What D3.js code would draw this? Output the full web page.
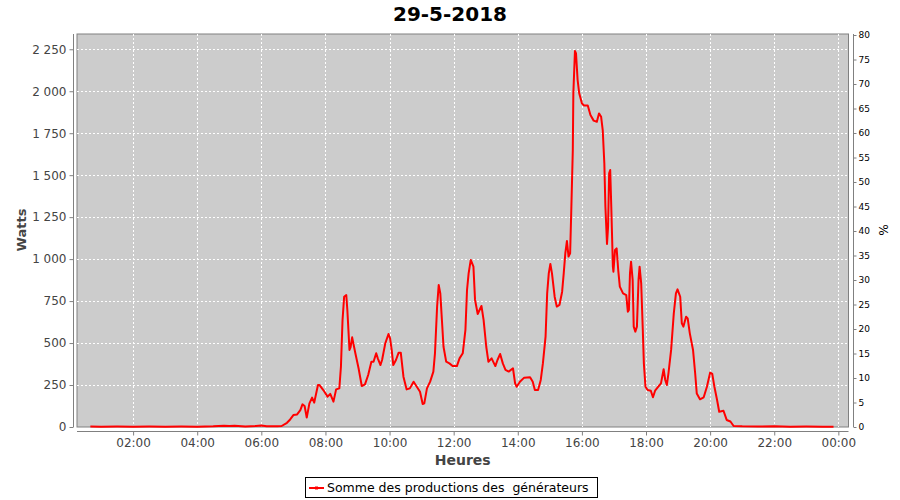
<!DOCTYPE html>
<html><head><meta charset="utf-8">
<script src="https://cdn.jsdelivr.net/npm/d3@7"></script>
<style>body{margin:0;background:#fff;}svg{display:block;font-family:"DejaVu Sans",sans-serif;}</style>
</head><body>
<svg id="c" width="900" height="500"></svg>
<script>
const title = "29-5-2018";
const seriesName = "Somme des productions des  générateurs";
const times = ["00:40","01:00","01:30","02:00","02:30","03:00","03:30","04:00","04:30","04:50","05:00","05:10","05:30","05:50","06:00","06:10","06:30","06:38",
"06:48","06:54","07:00","07:07","07:13","07:17","07:21","07:25","07:30","07:35","07:39","07:46","07:49","07:56","08:04","08:09","08:15","08:20","08:26","08:29","08:32","08:35","08:39","08:41","08:45","08:47","08:50","08:56",
"09:02","09:08","09:14","09:20","09:26","09:30","09:35","09:38","09:43","09:46","09:52","09:58","10:01","10:04","10:07","10:12","10:17","10:21","10:26","10:32","10:38","10:45","10:51","10:57",
"11:02","11:05","11:10","11:16","11:22","11:25","11:29","11:32","11:35","11:38","11:41","11:46","11:52","11:58","12:06","12:11","12:17","12:22","12:25","12:28","12:32","12:37","12:40","12:45","12:52","12:56",
"13:01","13:05","13:11","13:18","13:22","13:27","13:32","13:37","13:43","13:51","13:55","13:58","14:04","14:12","14:23","14:28","14:32","14:38","14:43","14:47","14:52","14:55","14:58",
"15:01","15:04","15:09","15:13","15:18","15:23","15:26","15:29","15:32","15:35","15:38","15:40","15:43","15:44","15:47","15:49","15:52","15:55","16:00","16:04","16:11","16:16","16:22","16:28","16:32","16:36","16:39","16:42","16:44","16:47","16:49","16:51","16:53","16:55","16:58","16:59",
"17:02","17:05","17:08","17:11","17:17","17:23","17:26","17:28","17:30","17:32","17:35","17:37","17:40","17:43","17:46","17:48","17:51","17:54","17:56","17:59",
"18:03","18:09","18:13","18:17","18:23","18:28","18:33","18:36","18:39","18:42","18:47","18:52","18:56","18:59","19:04","19:07","19:10","19:15","19:18","19:22","19:28","19:32","19:35","19:41","19:48","19:54",
"20:00","20:04","20:08","20:13","20:17","20:25","20:31","20:38","20:44","21:00","21:30","22:00","22:30","23:00","23:30","23:51"];
const watts = [3,2,3,2,3,2,3,2,4,8,6,8,3,6,9,5,4,6,
25,45,71,75,101,135,125,56,141,175,145,250,250,220,181,197,151,224,230,359,637,776,786,697,459,475,534,439,
350,244,254,310,389,389,439,409,369,399,498,554,528,459,369,399,443,443,300,224,230,270,240,210,
137,141,230,270,330,439,717,846,796,637,478,389,379,363,363,409,439,578,816,915,995,955,757,673,721,638,
478,389,409,363,399,435,379,340,330,350,260,240,270,294,296,270,220,220,280,379,538,796,915,
971,915,776,717,727,806,915,1035,1108,1015,1035,1273,1650,1988,2240,2225,2067,1988,1928,1915,1915,1858,1825,1818,1868,1848,1769,1571,1312,1090,1193,1511,1531,1312,955,925,
1054,1064,935,836,796,786,687,697,915,985,876,598,568,598,876,955,856,578,379,240,
220,216,177,216,240,260,344,280,250,320,459,677,796,820,776,618,598,657,647,558,459,320,200,165,177,240,
324,316,240,161,91,97,42,33,6,4,3,4,2,3,2,2];
const leftTicks = [0,250,500,750,1000,1250,1500,1750,2000,2250];
const rightTicks = [0,5,10,15,20,25,30,35,40,45,50,55,60,65,70,75,80];
const xLabel = "Heures", yLabel = "Watts", y2Label = "%";

const parse = t => { const [h,m] = t.split(":").map(Number); return new Date(2018,4,29,h,m); };
const data = times.map((t,i) => ({t: parse(t), v: watts[i]}));

const svg = d3.select("#c");
const L = 77, R = 848.5, T = 34, B = 427;
const x = d3.scaleTime().domain([new Date(2018,4,29,0,15), new Date(2018,4,30,0,19)]).range([L, R]);
const y = d3.scaleLinear().domain([0, 2341]).range([B, T]);
const y2 = d3.scaleLinear().domain([0, 80]).range([B, 35]);

svg.append("rect").attr("x",L).attr("y",T).attr("width",R-L).attr("height",B-T).attr("fill","#cccccc").attr("stroke","#808080").attr("stroke-width",1);

const xt = d3.timeHour.every(2).range(x.domain()[0], new Date(2018,4,30,0,1));
const g = svg.append("g");
g.selectAll(".vg").data(xt).join("line").attr("x1",d=>Math.round(x(d))+0.5).attr("x2",d=>Math.round(x(d))+0.5).attr("y1",T).attr("y2",B)
 .attr("stroke","#ffffff").attr("stroke-width",1).attr("stroke-dasharray","2,2");
g.selectAll(".hg").data(leftTicks.slice(1)).join("line").attr("y1",d=>Math.round(y(d))+0.5).attr("y2",d=>Math.round(y(d))+0.5).attr("x1",L).attr("x2",R)
 .attr("stroke","#ffffff").attr("stroke-width",1).attr("stroke-dasharray","2,2");

const fmt = d => d3.format(",")(d).replace(/,/g, " ");
const ax = svg.append("g").attr("transform","translate(0,431.5)")
  .call(d3.axisBottom(x).tickValues(xt).tickFormat(d3.timeFormat("%H:%M")).tickSizeInner(4).tickSizeOuter(0).tickPadding(3));
const ay = svg.append("g").attr("transform","translate(73.5,0)")
  .call(d3.axisLeft(y).tickValues(leftTicks).tickFormat(fmt).tickSizeInner(4).tickSizeOuter(0).tickPadding(3));
const ay2 = svg.append("g").attr("transform","translate(853.5,0)")
  .call(d3.axisRight(y2).tickValues(rightTicks).tickSizeInner(3).tickSizeOuter(0).tickPadding(2));
ax.select(".domain").attr("d",`M${L},0H${R}`);
ay.select(".domain").attr("d",`M0,${T}V${B}`);
ay2.select(".domain").attr("d",`M0,${T}V${B}`);
[ax,ay,ay2].forEach(a=>{a.select(".domain").attr("stroke","#808080");a.selectAll(".tick line").attr("stroke","#808080");});
ax.selectAll("text").attr("font-size",12).attr("fill","#444444").attr("font-family","DejaVu Sans");
ay.selectAll("text").attr("font-size",12).attr("fill","#444444").attr("font-family","DejaVu Sans");
ay2.selectAll("text").attr("font-size",9).attr("fill","#000000").attr("font-family","DejaVu Sans");

const line = d3.line().x(d=>x(d.t)).y(d=>y(d.v));
svg.append("path").datum(data).attr("d",line).attr("fill","none").attr("stroke","#ff0000").attr("stroke-width",2).attr("stroke-linejoin","round");

svg.append("text").attr("x",450).attr("y",21).attr("text-anchor","middle").attr("font-size",20).attr("font-weight","bold").attr("fill","#000").text(title);
svg.append("text").attr("x",(L+R)/2).attr("y",465).attr("text-anchor","middle").attr("font-size",14).attr("font-weight","bold").attr("fill","#444444").text(xLabel);
svg.append("text").attr("transform","translate(26,230) rotate(-90)").attr("text-anchor","middle").attr("font-size",13).attr("font-weight","bold").attr("fill","#444444").text(yLabel);
svg.append("text").attr("transform","translate(879,230) rotate(90)").attr("text-anchor","middle").attr("font-size",12).attr("fill","#000").text(y2Label);

const lg = svg.append("g");
lg.append("rect").attr("x",305.5).attr("y",477.5).attr("width",292).attr("height",20).attr("fill","#fff").attr("stroke","#000");
lg.append("line").attr("x1",309).attr("x2",324).attr("y1",488).attr("y2",488).attr("stroke","#ff0000").attr("stroke-width",2);
lg.append("rect").attr("x",315).attr("y",486.5).attr("width",3).attr("height",3).attr("fill","#ff0000");
lg.append("text").attr("x",327).attr("y",492).attr("font-size",12.5).attr("fill","#000").style("white-space","pre").text(seriesName);
</script>
</body></html>
